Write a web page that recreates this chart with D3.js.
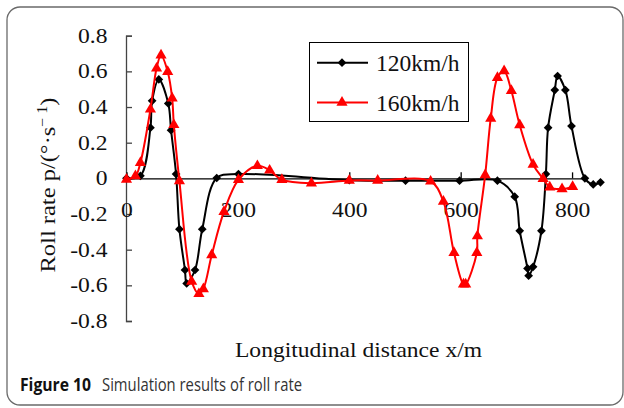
<!DOCTYPE html>
<html>
<head>
<meta charset="utf-8">
<script src="https://cdn.jsdelivr.net/npm/d3@7/dist/d3.min.js"></script>
<style>
  body { margin: 0; background: #fff; }
  svg { display: block; }
</style>
</head>
<body>
<div id="chart"></div>
<script>
// values
var dist120 = [0, 25, 43, 46, 58, 75, 80, 89, 95, 105, 108, 123, 136, 162, 201, 400, 501, 598, 666, 697, 706, 720, 722, 730, 745, 753, 757, 769, 774, 788, 799, 823, 838, 851];
var rate120 = [0, 0.014, 0.284, 0.435, 0.555, 0.42, 0.27, 0.024, -0.285, -0.514, -0.589, -0.514, -0.285, 0.002, 0.024, -0.01, -0.013, -0.013, -0.013, -0.103, -0.294, -0.505, -0.546, -0.496, -0.294, 0.024, 0.284, 0.495, 0.574, 0.495, 0.293, 0, -0.034, -0.022];

var dist160 = [0, 16, 25, 43, 54, 62, 74, 82, 85, 95, 117, 130, 138, 153, 175, 201, 235, 257, 279, 332, 400, 451, 546, 569, 588, 605, 609, 629, 630, 644, 654, 666, 678, 691, 706, 730, 748, 760, 782, 801];
var rate160 = [-0.006, 0.013, 0.088, 0.387, 0.617, 0.69, 0.598, 0.449, 0.3, -0.015, -0.578, -0.648, -0.62, -0.43, -0.187, -0.008, 0.07, 0.045, -0.008, -0.027, -0.012, -0.012, -0.017, -0.13, -0.417, -0.594, -0.594, -0.417, -0.324, 0.019, 0.336, 0.564, 0.602, 0.491, 0.299, 0.078, -0.002, -0.05, -0.06, -0.047];

var seriesNames = ["120km/h", "160km/h"];
var xTicks = [0, 200, 400, 600, 800];
var yTicks = [-0.8, -0.6, -0.4, -0.2, 0, 0.2, 0.4, 0.6, 0.8];

var width = 624, height = 408;
var serif = "'Liberation Serif', 'Times New Roman', serif";

var svg = d3.select("#chart").append("svg")
  .attr("width", width)
  .attr("height", height);

// outer frame
svg.append("rect")
  .attr("x", 7).attr("y", 7)
  .attr("width", 616).attr("height", 398)
  .attr("rx", 13)
  .attr("fill", "none")
  .attr("stroke", "#6a6a6a")
  .attr("stroke-width", 1.3);

var x = d3.scaleLinear().domain([0, 820]).range([126.5, 583.2]);
var y = d3.scaleLinear().domain([-0.8, 0.8]).range([321, 35.7]);

var fmt = function(d) { return d === 0 ? "0" : d.toFixed(1); };

// y axis, ticks pointing inward
var yAxis = svg.append("g")
  .attr("transform", "translate(126,0)")
  .call(d3.axisLeft(y).tickValues(yTicks).tickFormat(fmt)
    .tickSizeInner(-6).tickSizeOuter(-6).tickPadding(18.5));
yAxis.select(".domain").attr("stroke", "#444").attr("stroke-width", 1.3);
yAxis.selectAll(".tick line").attr("stroke", "#444").attr("stroke-width", 1.3);
yAxis.selectAll("text")
  .attr("class", "stretch")
  .attr("font-family", serif)
  .attr("font-size", 20.5)
  .attr("fill", "#111");

// x axis at y = 0, ticks pointing up
var xAxis = svg.append("g")
  .attr("transform", "translate(0," + y(0) + ")")
  .call(d3.axisBottom(x).tickValues(xTicks).tickFormat(d3.format("d"))
    .tickSizeInner(-6).tickSizeOuter(0).tickPadding(24.5));
xAxis.select(".domain").attr("stroke", "#000").attr("stroke-width", 1.3);
xAxis.selectAll(".tick line").attr("stroke", "#000").attr("stroke-width", 1.3);
xAxis.selectAll("text")
  .attr("class", "stretch")
  .attr("font-family", serif)
  .attr("font-size", 20.5)
  .attr("fill", "#111");

var line = d3.line()
  .x(function(d) { return x(d[0]); })
  .y(function(d) { return y(d[1]); })
  .curve(d3.curveCatmullRom.alpha(0.5));

var data120 = d3.zip(dist120, rate120);
var data160 = d3.zip(dist160, rate160);

var diamond = d3.symbol().type(d3.symbolSquare).size(38);
var triangle = d3.symbol().type(d3.symbolTriangle).size(54);

function drawSeries(data, color, sym, rot) {
  svg.append("path")
    .datum(data)
    .attr("fill", "none")
    .attr("stroke", color)
    .attr("stroke-width", 2)
    .attr("d", line);
  svg.append("g").selectAll("path")
    .data(data)
    .enter()
    .append("path")
    .attr("d", sym)
    .attr("fill", color)
    .attr("transform", function(d) {
      return "translate(" + x(d[0]) + "," + y(d[1]) + ") rotate(" + rot + ")";
    });
}

drawSeries(data120, "#000", diamond, 45);
drawSeries(data160, "#ff0000", triangle, 0);

// legend
var legend = svg.append("g");
legend.append("rect")
  .attr("x", 309.5).attr("y", 42.5)
  .attr("width", 159).attr("height", 79)
  .attr("fill", "#fff")
  .attr("stroke", "#000")
  .attr("stroke-width", 1);

var legendItems = [
  { name: seriesNames[0], color: "#000", sym: diamond, rot: 45, y: 62.7 },
  { name: seriesNames[1], color: "#ff0000", sym: triangle, rot: 0, y: 102.5 }
];
legendItems.forEach(function(it) {
  legend.append("line")
    .attr("x1", 317).attr("x2", 368)
    .attr("y1", it.y).attr("y2", it.y)
    .attr("stroke", it.color).attr("stroke-width", 2);
  legend.append("path")
    .attr("d", it.sym)
    .attr("fill", it.color)
    .attr("transform", "translate(342," + it.y + ") rotate(" + it.rot + ")");
  legend.append("text")
    .attr("x", 376).attr("y", it.y + 8)
    .attr("font-family", serif)
    .attr("font-size", 23.5)
    .attr("fill", "#111")
    .text(it.name);
});

// axis titles
svg.append("text")
  .attr("x", 358.5).attr("y", 357)
  .attr("text-anchor", "middle")
  .attr("font-family", serif)
  .attr("font-size", 21.5)
  .attr("fill", "#111")
  .attr("textLength", 247)
  .attr("lengthAdjust", "spacingAndGlyphs")
  .text("Longitudinal distance x/m");

var yt = svg.append("text")
  .attr("transform", "translate(55,185) rotate(-90)")
  .attr("text-anchor", "middle")
  .attr("font-family", serif)
  .attr("font-size", 21.5)
  .attr("fill", "#111")
  .attr("textLength", 175)
  .attr("lengthAdjust", "spacingAndGlyphs");
yt.append("tspan").text("Roll rate p/(°·s");
yt.append("tspan").attr("dy", -8).attr("font-size", 14).text("\u2212\u00a01");
yt.append("tspan").attr("dy", 8).text(")");

// caption
svg.append("text")
  .attr("x", 20).attr("y", 391)
  .attr("font-family", "'Open Sans', 'Noto Sans', sans-serif")
  .attr("font-weight", 700)
  .attr("font-size", 18.5)
  .attr("fill", "#111")
  .attr("textLength", 71)
  .attr("lengthAdjust", "spacingAndGlyphs")
  .text("Figure 10");
svg.append("text")
  .attr("x", 102).attr("y", 391)
  .attr("font-family", "'Open Sans', 'Noto Sans', sans-serif")
  .attr("font-weight", 400)
  .attr("font-size", 18.5)
  .attr("fill", "#333")
  .attr("textLength", 200)
  .attr("lengthAdjust", "spacingAndGlyphs")
  .text("Simulation results of roll rate");

// tick labels in the figure are a little wider than plain Times
svg.selectAll("text.stretch").each(function() {
  var len = this.getComputedTextLength();
  d3.select(this)
    .attr("textLength", len * 1.15)
    .attr("lengthAdjust", "spacingAndGlyphs");
});
</script>
</body>
</html>
